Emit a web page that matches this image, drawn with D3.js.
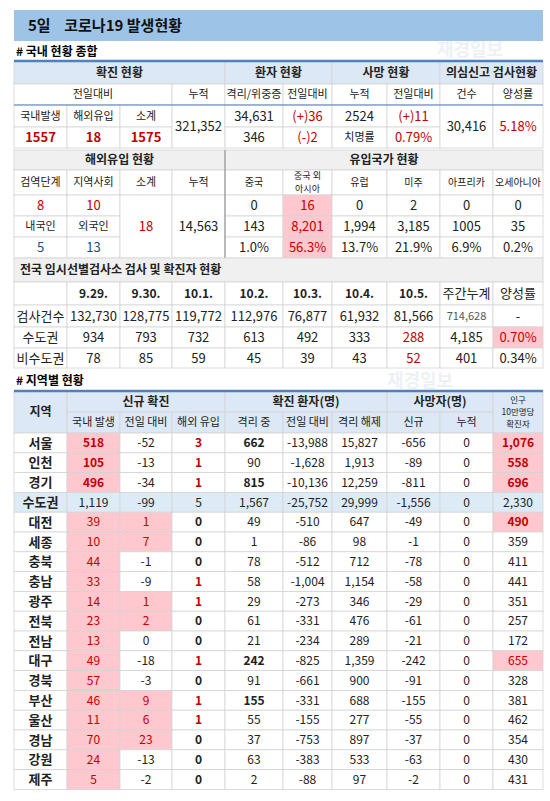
<!DOCTYPE html>
<html><head><meta charset="utf-8">
<script src="https://cdn.jsdelivr.net/npm/d3@7"></script>
<style>body{margin:0;background:#fff}svg{font-family:"Noto Sans CJK KR","Noto Sans",sans-serif}</style>
</head><body><svg id="c" width="550" height="801"></svg>
<script>
// ---- data ----
const title = "5일    코로나19 발생현황";
const confirmedToday = ["1557","18","1575"];
const confirmedCum = "321,352";
const isolating = ["34,631","(+)36"];
const critical = ["346","(-)2"];
const deaths = ["2524","(+)11"];
const fatality = "0.79%";
const tests = ["30,416","5.18%"];
const importStages = ["8","10"], importNation = ["5","13"], importSub = "18", importCum = "14,563";
const origins = ["중국","중국 외\n아시아","유럽","미주","아프리카","오세아니아"];
const originToday = ["0","16","0","2","0","0"];
const originCum = ["143","8,201","1,994","3,185","1005","35"];
const originPct = ["1.0%","56.3%","13.7%","21.9%","6.9%","0.2%"];
const testDates = ["9.29.","9.30.","10.1.","10.2.","10.3.","10.4.","10.5.","주간누계","양성률"];
const testCounts = ["132,730","128,775","119,772","112,976","76,877","61,932","81,566","714,628","-"];
const testMetro = ["934","793","732","613","492","333","288","4,185","0.70%"];
const testNonMetro = ["78","85","59","45","39","43","52","401","0.34%"];
const regions = ["서울","인천","경기","수도권","대전","세종","충북","충남","광주","전북","전남","대구","경북","부산","울산","경남","강원","제주"];
const domestic = [518,105,496,1119,39,10,44,33,14,23,13,49,57,46,11,70,24,5];
const dayChange = [-52,-13,-34,-99,1,7,-1,-9,1,2,0,-18,-3,9,6,23,-13,-2];
const imported = [3,1,1,5,0,0,0,1,1,0,0,1,0,1,1,0,0,0];
const isoNow = [662,90,815,1567,49,1,78,58,29,61,21,242,91,155,55,37,63,2];
const isoChange = [-13988,-1628,-10136,-25752,-510,-86,-512,-1004,-273,-331,-234,-825,-661,-331,-155,-753,-383,-88];
const released = [15827,1913,12259,29999,647,98,712,1154,346,476,289,1359,900,688,277,897,533,97];
const deathNew = [-656,-89,-811,-1556,-49,-1,-78,-58,-29,-61,-21,-242,-91,-155,-55,-37,-63,-2];
const deathCum = [0,0,0,0,0,0,0,0,0,0,0,0,0,0,0,0,0,0];
const per100k = [1076,558,696,2330,490,359,411,441,351,257,172,655,328,381,462,354,430,431];

// ---- drawing ----
const svg = d3.select("#c");
const colEdges = [14,67,120,172,225,283,332,387,440,493,543];
const x = d3.scaleLinear().domain(d3.range(11)).range(colEdges);
const BLUE="#dce8f5", GRAY="#f0f0f0", PINK="#ffc7ce", RED="#c00000", NAVY="#1f4e79", LINE="#d4d4d4";
const fmt = n => d3.format(",")(n).replace("−","-");
function cell(c0,c1,y0,y1,text,o={}){
  const g=svg.append("g");
  g.append("rect").attr("x",x(c0)).attr("y",y0).attr("width",x(c1)-x(c0)).attr("height",y1-y0)
   .attr("fill",o.fill||"#fff").attr("stroke",LINE).attr("stroke-width",0.8);
  if(text==null) return;
  const lines=String(text).split("\n");
  const fs=o.fs||12, cx=(o.left? x(c0)+6 : (x(c0)+x(c1))/2), cy=(y0+y1)/2;
  lines.forEach((l,i)=>{
    g.append("text").attr("x",cx).attr("y",cy+(i-(lines.length-1)/2)*(fs*1.4)).attr("dy","0.36em")
     .attr("text-anchor",o.left?"start":"middle").attr("font-size",fs)
     .attr("font-weight",o.bold?"bold":"normal").attr("fill",o.color||"#222").text(l);
  });
}
// title
svg.append("rect").attr("x",14).attr("y",10).attr("width",529).attr("height",31).attr("fill","#9dc3e6");
svg.append("text").attr("x",28).attr("y",26).attr("dy","0.36em").attr("font-size",15).attr("font-weight","bold").attr("fill","#111").attr("xml:space","preserve").text(title);
svg.append("text").attr("x",16).attr("y",52).attr("dy","0.36em").attr("font-size",12).attr("font-weight","bold").text("# 국내 현황 종합");

// top table
let r=[61,84,105,127,148];
cell(0,4,r[0],r[1],"확진 현황",{fill:BLUE,bold:true});
cell(4,6,r[0],r[1],"환자 현황",{fill:BLUE,bold:true});
cell(6,8,r[0],r[1],"사망 현황",{fill:BLUE,bold:true});
cell(8,10,r[0],r[1],"의심신고 검사현황",{fill:BLUE,bold:true});
cell(0,3,r[1],r[2],"전일대비",{fs:11});
cell(3,4,r[1],r[2],"누적",{fs:11});
["격리/위중증","전일대비","누적","전일대비","건수","양성률"].forEach((t,i)=>cell(4+i,5+i,r[1],r[2],t,{fs:11}));
["국내발생","해외유입","소계"].forEach((t,i)=>cell(i,i+1,r[2],r[3],t,{fs:11}));
confirmedToday.forEach((t,i)=>cell(i,i+1,r[3],r[4],t,{color:RED,bold:true,fs:13}));
cell(3,4,r[2],r[4],confirmedCum,{fs:13});
cell(4,5,r[2],r[3],isolating[0],{fs:13}); cell(5,6,r[2],r[3],isolating[1],{color:RED,fs:13});
cell(4,5,r[3],r[4],critical[0],{fs:13}); cell(5,6,r[3],r[4],critical[1],{color:RED,fs:13});
cell(6,7,r[2],r[3],deaths[0],{fs:13}); cell(7,8,r[2],r[3],deaths[1],{color:RED,fs:13});
cell(6,7,r[3],r[4],"치명률",{fs:11}); cell(7,8,r[3],r[4],fatality,{color:RED,fs:13});
cell(8,9,r[2],r[4],tests[0],{fs:13}); cell(9,10,r[2],r[4],tests[1],{color:RED,fs:13});
svg.append("line").attr("x1",14).attr("x2",543).attr("y1",61).attr("y2",61).attr("stroke","#4f81bd").attr("stroke-width",2.5);
svg.append("line").attr("x1",14).attr("x2",543).attr("y1",105).attr("y2",105).attr("stroke","#4f81bd").attr("stroke-width",1.2);

// imports section
r=[150,170,195,216,237,258];
cell(0,4,r[0],r[1],"해외유입 현황",{fill:GRAY,bold:true});
cell(4,10,r[0],r[1],"유입국가 현황",{fill:GRAY,bold:true});
["검역단계","지역사회","소계","누적"].forEach((t,i)=>cell(i,i+1,r[1],r[2],t,{fs:11}));
origins.forEach((t,i)=>cell(4+i,5+i,r[1],r[2],t,{fs:i===1?9:10}));
cell(0,1,r[2],r[3],importStages[0],{color:RED,fs:13}); cell(1,2,r[2],r[3],importStages[1],{color:RED,fs:13});
cell(0,1,r[3],r[4],"내국인",{fs:11}); cell(1,2,r[3],r[4],"외국인",{fs:11});
cell(0,1,r[4],r[5],importNation[0],{color:NAVY,fs:13}); cell(1,2,r[4],r[5],importNation[1],{color:NAVY,fs:13});
cell(2,3,r[2],r[5],importSub,{color:RED,fs:13}); cell(3,4,r[2],r[5],importCum,{fs:13});
[originToday,originCum,originPct].forEach((arr,j)=>arr.forEach((t,i)=>
  cell(4+i,5+i,r[2+j],r[3+j],t,{fs:13,fill:i===1?PINK:"#fff",color:i===1?RED:"#222"})));
svg.append("line").attr("x1",x(4)).attr("x2",x(4)).attr("y1",150).attr("y2",258).attr("stroke","#999").attr("stroke-width",1.2);
// testing section
r=[258,282,305,327,348,368];
cell(0,10,r[0],r[1],"전국 임시선별검사소 검사 및 확진자 현황",{fill:GRAY,bold:true,left:true});
cell(0,1,r[1],r[2],"");
testDates.forEach((t,i)=>cell(1+i,2+i,r[1],r[2],t,{bold:i<7,fs:i<7?12:13}));
[["검사건수",testCounts],["수도권",testMetro],["비수도권",testNonMetro]].forEach(([lab,arr],j)=>{
  cell(0,1,r[2+j],r[3+j],lab,{fs:13});
  arr.forEach((t,i)=>{
    const pink=(j===1&&i===8);
    cell(1+i,2+i,r[2+j],r[3+j],t,{fs:j===0&&i===7?11:13,fill:pink?PINK:"#fff",
      color:(i===6&&j>0)||pink?RED:(j===0&&i===7?"#555":"#222")});
  });
});

// region table
svg.append("text").attr("x",16).attr("y",381).attr("dy","0.36em").attr("font-size",12).attr("font-weight","bold").text("# 지역별 현황");
const h0=391,h1=412,h2=433,rh=19.8;
const y=d3.scaleLinear().domain([0,regions.length]).range([h2,h2+rh*regions.length]);
cell(0,1,h0,h2,"지역",{fill:BLUE,bold:true});
cell(1,4,h0,h1,"신규 확진",{fill:BLUE,bold:true});
cell(4,7,h0,h1,"확진 환자(명)",{fill:BLUE,bold:true});
cell(7,9,h0,h1,"사망자(명)",{fill:BLUE,bold:true});
cell(9,10,h0,h2,"인구\n10만명당\n확진자",{fill:BLUE,fs:8.5});
["국내 발생","전일 대비","해외 유입","격리 중","전일 대비","격리 해제","신규","누적"].forEach((t,i)=>cell(1+i,2+i,h1,h2,t,{fill:BLUE,fs:11}));
svg.append("line").attr("x1",14).attr("x2",543).attr("y1",h0).attr("y2",h0).attr("stroke","#4f81bd").attr("stroke-width",2.5);
regions.forEach((name,i)=>{
  const metro=name==="수도권", y0=y(i), y1=y(i+1), bg=metro?"#ddebf7":"#fff";
  cell(0,1,y0,y1,name,{fill:bg,bold:true,fs:13});
  cell(1,2,y0,y1,fmt(domestic[i]),{fill:metro?bg:PINK,color:metro?"#222":RED,bold:i<3});
  cell(2,3,y0,y1,fmt(dayChange[i]),{fill:!metro&&dayChange[i]>0?PINK:bg,color:!metro&&dayChange[i]>0?RED:"#222"});
  cell(3,4,y0,y1,fmt(imported[i]),{fill:bg,bold:!metro,color:!metro&&imported[i]>0?RED:"#222"});
  cell(4,5,y0,y1,fmt(isoNow[i]),{fill:bg,bold:!metro&&isoNow[i]>100});
  cell(5,6,y0,y1,fmt(isoChange[i]),{fill:bg});
  cell(6,7,y0,y1,fmt(released[i]),{fill:bg});
  cell(7,8,y0,y1,fmt(deathNew[i]),{fill:bg});
  cell(8,9,y0,y1,fmt(deathCum[i]),{fill:bg});
  const hp=!metro&&per100k[i]>=480;
  cell(9,10,y0,y1,fmt(per100k[i]),{fill:hp?PINK:bg,color:hp?RED:"#222",bold:hp&&i<5});
});
// watermarks (faint, on top)
[[470,56],[420,387]].forEach(([wx,wy])=>svg.append("text").attr("x",wx).attr("y",wy).attr("font-size",18)
  .attr("font-weight","bold").attr("fill","#b8c8d8").attr("opacity",0.25).attr("text-anchor","middle").text("재경일보"));
</script></body></html>
